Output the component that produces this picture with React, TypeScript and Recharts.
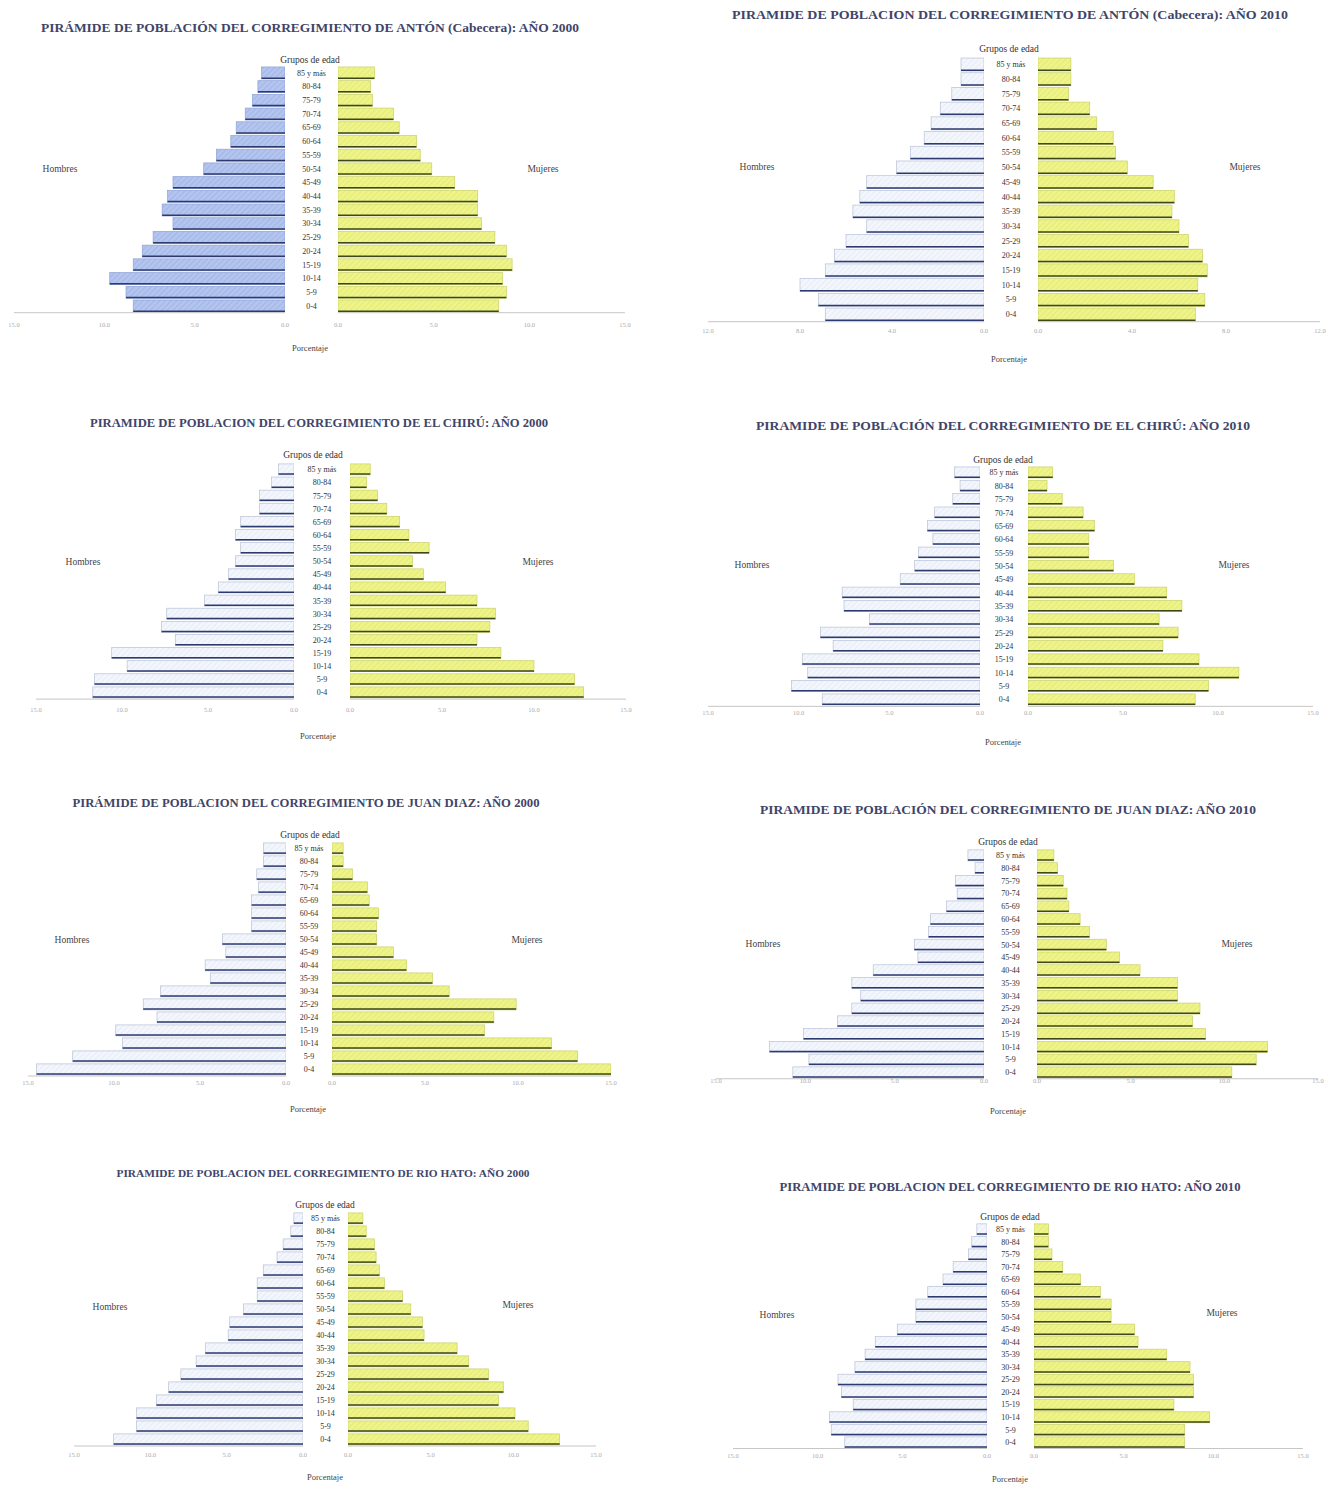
import React from 'react';
import { BarChart, Bar, XAxis, YAxis } from 'recharts';

// ---------- DATA ----------
const AGE_GROUPS = ['85 y más', '80-84', '75-79', '70-74', '65-69', '60-64', '55-59', '50-54', '45-49', '40-44', '35-39', '30-34', '25-29', '20-24', '15-19', '10-14', '5-9', '0-4'];

const TICKS_15 = [0, 5, 10, 15];
const TICKS_12 = [0, 4, 8, 12];

const ANTON_2000_H = [1.3, 1.5, 1.8, 2.2, 2.7, 3.0, 3.8, 4.5, 6.2, 6.5, 6.8, 6.2, 7.3, 7.9, 8.4, 9.7, 8.8, 8.4];
const ANTON_2000_M = [1.9, 1.7, 1.8, 2.9, 3.2, 4.1, 4.3, 4.9, 6.1, 7.3, 7.3, 7.5, 8.2, 8.8, 9.1, 8.6, 8.8, 8.4];
const ANTON_2010_H = [1.0, 1.0, 1.4, 1.9, 2.3, 2.6, 3.2, 3.8, 5.1, 5.4, 5.7, 5.1, 6.0, 6.5, 6.9, 8.0, 7.2, 6.9];
const ANTON_2010_M = [1.4, 1.4, 1.3, 2.2, 2.5, 3.2, 3.3, 3.8, 4.9, 5.8, 5.7, 6.0, 6.4, 7.0, 7.2, 6.8, 7.1, 6.7];
const CHIRU_2000_H = [0.9, 1.3, 2.0, 2.0, 3.1, 3.4, 3.1, 3.4, 3.8, 4.4, 5.2, 7.4, 7.7, 6.9, 10.6, 9.7, 11.6, 11.7];
const CHIRU_2000_M = [1.1, 0.9, 1.5, 2.0, 2.7, 3.2, 4.3, 3.4, 4.0, 5.2, 6.9, 7.9, 7.6, 6.9, 8.2, 10.0, 12.2, 12.7];
const CHIRU_2010_H = [1.4, 1.1, 1.5, 2.5, 2.9, 2.6, 3.4, 3.6, 4.4, 7.6, 7.5, 6.1, 8.8, 8.1, 9.8, 9.5, 10.4, 8.7];
const CHIRU_2010_M = [1.3, 1.0, 1.8, 2.9, 3.5, 3.2, 3.2, 4.5, 5.6, 7.3, 8.1, 6.9, 7.9, 7.1, 9.0, 11.1, 9.5, 8.8];
const JUAN_2000_H = [1.3, 1.3, 1.7, 1.6, 2.0, 2.0, 2.0, 3.7, 3.5, 4.7, 4.4, 7.3, 8.3, 7.5, 9.9, 9.5, 12.4, 14.5];
const JUAN_2000_M = [0.6, 0.6, 1.1, 1.9, 2.0, 2.5, 2.4, 2.4, 3.3, 4.0, 5.4, 6.3, 9.9, 8.7, 8.2, 11.8, 13.2, 15.0];
const JUAN_2010_H = [0.9, 0.5, 1.6, 1.5, 2.1, 3.0, 3.1, 3.9, 3.7, 6.2, 7.4, 6.9, 7.4, 8.2, 10.1, 12.0, 9.8, 10.7];
const JUAN_2010_M = [0.9, 1.1, 1.4, 1.6, 1.7, 2.3, 2.8, 3.7, 4.4, 5.5, 7.5, 7.5, 8.7, 8.3, 9.0, 12.3, 11.7, 10.4];
const RIO_2000_H = [0.6, 0.8, 1.3, 1.7, 2.6, 3.0, 3.0, 3.9, 4.8, 4.9, 6.4, 7.0, 8.0, 8.8, 9.6, 10.9, 10.9, 12.4];
const RIO_2000_M = [0.9, 1.1, 1.6, 1.7, 1.9, 2.2, 3.3, 3.8, 4.5, 4.6, 6.6, 7.3, 8.5, 9.4, 9.1, 10.1, 10.9, 12.8];
const RIO_2010_H = [0.6, 0.9, 1.1, 2.0, 2.6, 3.5, 4.2, 4.2, 5.3, 6.6, 7.2, 7.8, 8.8, 8.6, 7.9, 9.3, 9.2, 8.4];
const RIO_2010_M = [0.8, 0.8, 1.0, 1.6, 2.6, 3.7, 4.3, 4.3, 5.6, 5.8, 7.4, 8.7, 8.9, 8.9, 7.8, 9.8, 8.4, 8.4];

const TITLES = [
  'PIRÁMIDE DE POBLACIÓN DEL CORREGIMIENTO DE ANTÓN (Cabecera): AÑO 2000',
  'PIRAMIDE DE POBLACION DEL CORREGIMIENTO DE ANTÓN (Cabecera): AÑO 2010',
  'PIRAMIDE DE POBLACION DEL CORREGIMIENTO DE EL CHIRÚ: AÑO 2000',
  'PIRAMIDE DE POBLACIÓN DEL CORREGIMIENTO DE EL CHIRÚ: AÑO 2010',
  'PIRÁMIDE DE POBLACION DEL CORREGIMIENTO DE JUAN DIAZ: AÑO 2000',
  'PIRAMIDE DE POBLACIÓN DEL CORREGIMIENTO DE JUAN DIAZ: AÑO 2010',
  'PIRAMIDE DE POBLACION DEL CORREGIMIENTO DE RIO HATO: AÑO 2000',
  'PIRAMIDE DE POBLACION DEL CORREGIMIENTO DE RIO HATO: AÑO 2010',
];

const SERIES = [
  [ANTON_2000_H, ANTON_2000_M, TICKS_15],
  [ANTON_2010_H, ANTON_2010_M, TICKS_12],
  [CHIRU_2000_H, CHIRU_2000_M, TICKS_15],
  [CHIRU_2010_H, CHIRU_2010_M, TICKS_15],
  [JUAN_2000_H, JUAN_2000_M, TICKS_15],
  [JUAN_2010_H, JUAN_2010_M, TICKS_15],
  [RIO_2000_H, RIO_2000_M, TICKS_15],
  [RIO_2010_H, RIO_2010_M, TICKS_15],
];

// ---------- LAYOUT ----------
const LAYOUT = [
  { tx: 310, ty: 27, tw: 538, ts: 13, gx: 310, gy: 60, catTop: 73, catBot: 306, ls: 14, lz: 285, rz: 338, re: 625, tickY: 325, px: 310, py: 348, hx: 60, hy: 169, mx: 543, my: 169, blue: true },
  { tx: 1010, ty: 14, tw: 556, ts: 13, gx: 1009, gy: 49, catTop: 64, catBot: 314, ls: 708, lz: 984, rz: 1038, re: 1320, tickY: 331, px: 1009, py: 359, hx: 757, hy: 167, mx: 1245, my: 167 },
  { tx: 319, ty: 423, tw: 458, ts: 12, gx: 313, gy: 455, catTop: 470, catBot: 693, ls: 36, lz: 294, rz: 350, re: 626, tickY: 710, px: 318, py: 736, hx: 83, hy: 562, mx: 538, my: 562 },
  { tx: 1003, ty: 426, tw: 494, ts: 12.5, gx: 1003, gy: 460, catTop: 473, catBot: 700, ls: 708, lz: 980, rz: 1028, re: 1313, tickY: 713, px: 1003, py: 742, hx: 752, hy: 565, mx: 1234, my: 565 },
  { tx: 306, ty: 803, tw: 467, ts: 12, gx: 310, gy: 835, catTop: 848, catBot: 1069, ls: 28, lz: 286, rz: 332, re: 611, tickY: 1082, px: 308, py: 1109, hx: 72, hy: 940, mx: 527, my: 940 },
  { tx: 1008, ty: 810, tw: 496, ts: 12.5, gx: 1008, gy: 842, catTop: 855, catBot: 1072, ls: 716, lz: 984, rz: 1037, re: 1318, tickY: 1081, px: 1008, py: 1111, hx: 763, hy: 944, mx: 1237, my: 944 },
  { tx: 323, ty: 1173, tw: 413, ts: 11, gx: 325, gy: 1205, catTop: 1218, catBot: 1439, ls: 74, lz: 303, rz: 348, re: 596, tickY: 1454, px: 325, py: 1477, hx: 110, hy: 1307, mx: 518, my: 1305 },
  { tx: 1010, ty: 1187, tw: 461, ts: 12, gx: 1010, gy: 1217, catTop: 1229, catBot: 1442, ls: 733, lz: 987, rz: 1034, re: 1303, tickY: 1456, px: 1010, py: 1479, hx: 777, hy: 1315, mx: 1222, my: 1313 },
];

const FONT = '"Liberation Serif", "DejaVu Serif", serif';
const AXH = 24;
const PAD = 16;

const fmt = (v: number) => v.toFixed(1);

function makeShape(fill: string, outline: string, edge: string) {
  return (props: any) => {
    const { x, y, width, height } = props;
    if (width == null || height == null) return <g />;
    const x0 = width < 0 ? x + width : x;
    const w = Math.abs(width);
    return (
      <g>
        <rect x={x0} y={y} width={w} height={height} fill={fill} stroke={outline} strokeWidth={0.7} />
        <line x1={x0} x2={x0 + w} y1={y + height - 0.8} y2={y + height - 0.8} stroke={edge} strokeWidth={1.5} />
      </g>
    );
  };
}

const blueShape = makeShape('url(#hatchBlue)', '#8ea2d6', '#2c3a70');
const paleShape = makeShape('url(#hatchPale)', '#b8c1d6', '#2c3a70');
const yellowShape = makeShape('url(#hatchYellow)', '#c9d06a', '#3e4818');

const CatTick = (props: any) => {
  const { x, y, payload, gap } = props;
  return (
    <text x={x + gap / 2} y={y} dy="0.35em" textAnchor="middle" fontSize={8} fontFamily={FONT} fill="#333">
      {payload.value}
    </text>
  );
};

function Pyramid({ idx }: { idx: number }) {
  const p = LAYOUT[idx];
  const [male, female, ticks] = SERIES[idx] as [number[], number[], number[]];
  const max = ticks[ticks.length - 1];
  const band = (p.catBot - p.catTop) / 17;
  const plotTop = p.catTop - band / 2;
  const plotH = band * 18;
  const plotBottom = plotTop + plotH;
  const gap = p.rz - p.lz;
  const rows = AGE_GROUPS.map((age, i) => ({ age, h: male[i], m: female[i] }));
  const tickMargin = Math.max(0, p.tickY - 2.5 - plotBottom);
  const tickStyle = { fontSize: 6.5, fill: '#ababab', fontFamily: FONT };
  const axisLine = { stroke: '#c6c6c6', strokeWidth: 1 };
  return (
    <>
      <div style={{ position: 'absolute', left: p.ls - PAD, top: plotTop }}>
        <BarChart
          layout="vertical"
          width={PAD + p.rz - p.ls}
          height={plotH + AXH}
          data={rows}
          margin={{ top: 0, right: 0, bottom: 0, left: PAD }}
          barCategoryGap="7%"
        >
          <XAxis type="number" domain={[0, max]} ticks={ticks} reversed tickFormatter={fmt} height={AXH}
            tickSize={0} tickMargin={tickMargin} tick={tickStyle} axisLine={axisLine} tickLine={false} allowDataOverflow interval={0} />
          <YAxis type="category" dataKey="age" orientation="right" width={gap} tickSize={0} tickMargin={0}
            axisLine={false} tickLine={false} interval={0} tick={(tp: any) => <CatTick {...tp} gap={gap} />} />
          <Bar dataKey="h" isAnimationActive={false} shape={p.blue ? blueShape : paleShape} />
        </BarChart>
      </div>
      <div style={{ position: 'absolute', left: p.rz - PAD, top: plotTop }}>
        <BarChart
          layout="vertical"
          width={p.re - p.rz + 2 * PAD}
          height={plotH + AXH}
          data={rows}
          margin={{ top: 0, right: PAD, bottom: 0, left: PAD }}
          barCategoryGap="7%"
        >
          <XAxis type="number" domain={[0, max]} ticks={ticks} tickFormatter={fmt} height={AXH}
            tickSize={0} tickMargin={tickMargin} tick={tickStyle} axisLine={axisLine} tickLine={false} allowDataOverflow interval={0} />
          <YAxis type="category" dataKey="age" hide />
          <Bar dataKey="m" isAnimationActive={false} shape={yellowShape} />
        </BarChart>
      </div>
    </>
  );
}

function Labels() {
  return (
    <svg width={1337} height={1487} style={{ position: 'absolute', left: 0, top: 0, pointerEvents: 'none' }}>
      {LAYOUT.map((p, i) => (
        <g key={i} fontFamily={FONT}>
          <text x={p.tx} y={p.ty} textAnchor="middle" dominantBaseline="central" fontSize={p.ts} fontWeight="bold"
            textLength={p.tw} lengthAdjust="spacingAndGlyphs" fill="#3f4569">{TITLES[i]}</text>
          <text x={p.gx} y={p.gy} textAnchor="middle" dominantBaseline="central" fontSize={9.5} fill="#333">Grupos de edad</text>
          <text x={p.hx} y={p.hy} textAnchor="middle" dominantBaseline="central" fontSize={9.5} fill="#444">Hombres</text>
          <text x={p.mx} y={p.my} textAnchor="middle" dominantBaseline="central" fontSize={9.5} fill="#444">Mujeres</text>
          <text x={p.px} y={p.py} textAnchor="middle" dominantBaseline="central" fontSize={8.5} fill="#444">Porcentaje</text>
        </g>
      ))}
    </svg>
  );
}

export default function App() {
  return (
    <div style={{ position: 'absolute', left: 0, top: 0, width: 1337, height: 1487, background: '#fff', overflow: 'hidden' }}>
      <svg width={0} height={0} style={{ position: 'absolute' }}>
        <defs>
          <pattern id="hatchBlue" width="4" height="4" patternUnits="userSpaceOnUse" patternTransform="rotate(45)">
            <rect width="4" height="4" fill="#b3c5ef" />
            <line x1="0" y1="0" x2="0" y2="4" stroke="#9bafe3" strokeWidth="1.4" />
          </pattern>
          <pattern id="hatchPale" width="4" height="4" patternUnits="userSpaceOnUse" patternTransform="rotate(45)">
            <rect width="4" height="4" fill="#f3f6fc" />
            <line x1="0" y1="0" x2="0" y2="4" stroke="#e2e8f3" strokeWidth="1.4" />
          </pattern>
          <pattern id="hatchYellow" width="4" height="4" patternUnits="userSpaceOnUse" patternTransform="rotate(45)">
            <rect width="4" height="4" fill="#eff489" />
            <line x1="0" y1="0" x2="0" y2="4" stroke="#dfe672" strokeWidth="1.4" />
          </pattern>
        </defs>
      </svg>
      {LAYOUT.map((_, i) => <Pyramid key={i} idx={i} />)}
      <Labels />
    </div>
  );
}
